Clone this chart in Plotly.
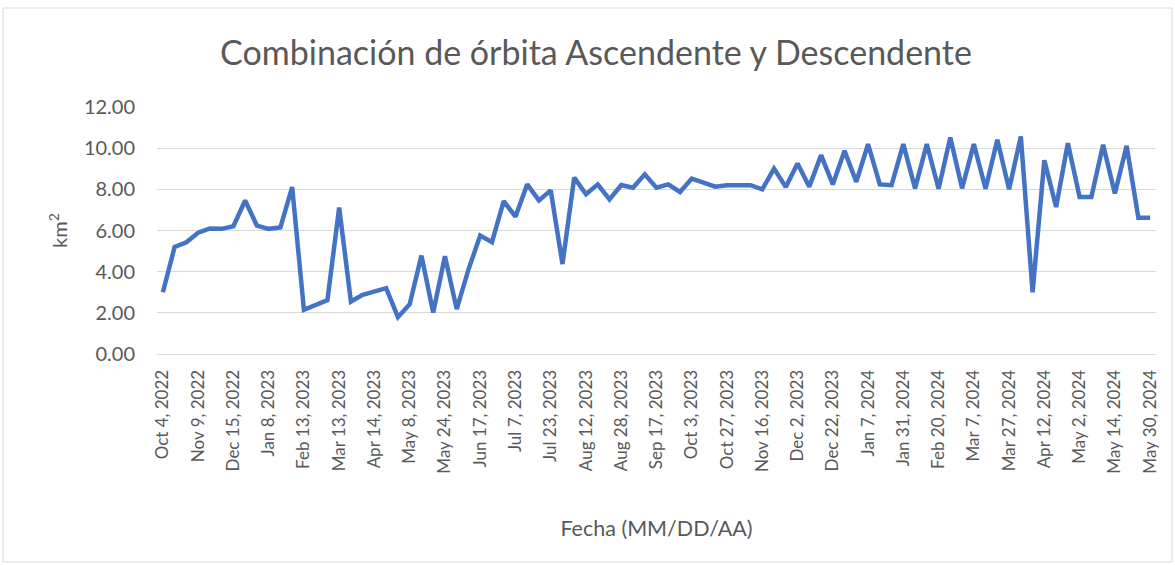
"""Combinación de órbita Ascendente y Descendente: área (km²) por fecha."""

import plotly.graph_objects as go

LINE_COLOR = "#4472C4"
TEXT_COLOR = "#595959"
GRID_COLOR = "#D9D9D9"
FONT = "Lato, 'Open Sans', sans-serif"

fechas = [
    "Oct 4, 2022", "Oct 16, 2022", "Oct 28, 2022",
    "Nov 9, 2022", "Nov 21, 2022", "Dec 3, 2022",
    "Dec 15, 2022", "Dec 21, 2022", "Jan 2, 2023",
    "Jan 8, 2023", "Jan 20, 2023", "Feb 1, 2023",
    "Feb 13, 2023", "Feb 25, 2023", "Mar 9, 2023",
    "Mar 13, 2023", "Mar 21, 2023", "Apr 2, 2023",
    "Apr 14, 2023", "Apr 26, 2023", "May 2, 2023",
    "May 8, 2023", "May 14, 2023", "May 20, 2023",
    "May 24, 2023", "Jun 1, 2023", "Jun 7, 2023",
    "Jun 17, 2023", "Jun 25, 2023", "Jul 1, 2023",
    "Jul 7, 2023", "Jul 11, 2023", "Jul 19, 2023",
    "Jul 23, 2023", "Jul 31, 2023", "Aug 4, 2023",
    "Aug 12, 2023", "Aug 16, 2023", "Aug 24, 2023",
    "Aug 28, 2023", "Sep 5, 2023", "Sep 9, 2023",
    "Sep 17, 2023", "Sep 21, 2023", "Sep 29, 2023",
    "Oct 3, 2023", "Oct 11, 2023", "Oct 15, 2023",
    "Oct 27, 2023", "Nov 4, 2023", "Nov 8, 2023",
    "Nov 16, 2023", "Nov 20, 2023", "Nov 28, 2023",
    "Dec 2, 2023", "Dec 10, 2023", "Dec 14, 2023",
    "Dec 22, 2023", "Dec 26, 2023", "Jan 3, 2024",
    "Jan 7, 2024", "Jan 19, 2024", "Jan 27, 2024",
    "Jan 31, 2024", "Feb 8, 2024", "Feb 12, 2024",
    "Feb 20, 2024", "Feb 24, 2024", "Mar 3, 2024",
    "Mar 7, 2024", "Mar 15, 2024", "Mar 19, 2024",
    "Mar 27, 2024", "Mar 31, 2024", "Apr 8, 2024",
    "Apr 12, 2024", "Apr 20, 2024", "Apr 24, 2024",
    "May 2, 2024", "May 6, 2024", "May 10, 2024",
    "May 14, 2024", "May 18, 2024", "May 26, 2024",
    "May 30, 2024",
]

area_km2 = [
    3.00, 5.20, 5.43, 5.89, 6.10, 6.08, 6.21, 7.46, 6.24, 6.08,
    6.15, 8.11, 2.15, 2.36, 2.62, 7.11, 2.55, 2.88, 3.02, 3.20,
    1.79, 2.42, 4.78, 2.02, 4.75, 2.18, 4.10, 5.76, 5.43, 7.43,
    6.67, 8.24, 7.46, 7.95, 4.37, 8.57, 7.76, 8.24, 7.51, 8.21,
    8.08, 8.73, 8.08, 8.24, 7.87, 8.52, 8.33, 8.13, 8.20, 8.20,
    8.20, 8.00, 9.01, 8.11, 9.25, 8.13, 9.66, 8.24, 9.87, 8.36,
    10.20, 8.24, 8.20, 10.20, 8.05, 10.20, 8.03, 10.52, 8.05, 10.20,
    8.03, 10.41, 8.00, 10.57, 3.00, 9.41, 7.14, 10.24, 7.63, 7.63,
    10.16, 7.80, 10.11, 6.62, 6.62,
]

# Excel shows every third date on the category axis
fechas_visibles = fechas[::3]

fig = go.Figure(
    go.Scatter(
        x=fechas, y=area_km2, mode="lines",
        line=dict(color=LINE_COLOR, width=4.5),
        hovertemplate="%{x}<br>%{y:.2f} km²<extra></extra>",
    )
)

fig.update_layout(
    width=1175, height=565,
    paper_bgcolor="white", plot_bgcolor="white",
    margin=dict(l=157, r=19, t=107, b=211),
    font=dict(family=FONT, color=TEXT_COLOR, size=16),
    showlegend=False,
    title=dict(
        text="Combinación de órbita Ascendente y Descendente",
        x=596 / 1175, xanchor="center", y=1 - 53 / 565, yanchor="middle",
        font=dict(size=34, color=TEXT_COLOR),
    ),
    xaxis=dict(
        type="category",
        range=[-0.5, len(fechas) - 0.5],
        tickmode="array", tickvals=fechas_visibles, ticktext=fechas_visibles,
        tickangle=-90, tickfont=dict(size=17),
        showgrid=False, showline=True, linecolor=GRID_COLOR, linewidth=1,
        ticks="", ticklabelstandoff=8,
        title=dict(text="Fecha (MM/DD/AA)", font=dict(size=21.5), standoff=48),
    ),
    yaxis=dict(
        range=[0, 12], dtick=2, tickformat=".2f",
        tickfont=dict(size=20),
        showgrid=True, gridcolor=GRID_COLOR, gridwidth=1.3,
        zeroline=False, showline=False, ticks="", ticklabelstandoff=21,
        title=dict(text="km<sup>2</sup>", font=dict(size=20), standoff=10),
    ),
    shapes=[
        dict(
            type="rect", xref="paper", yref="paper",
            x0=(3 - 157) / 999, x1=(1172 - 157) / 999,
            y0=(354 - 562) / 247, y1=(354 - 8) / 247,
            line=dict(color=GRID_COLOR, width=1), layer="below",
        )
    ],
)

# the page's default 8px body margin would shift the whole chart
fig.write_html(
    "out.html",
    config={"displayModeBar": False},
    post_script="document.body.style.margin = '0';",
)
